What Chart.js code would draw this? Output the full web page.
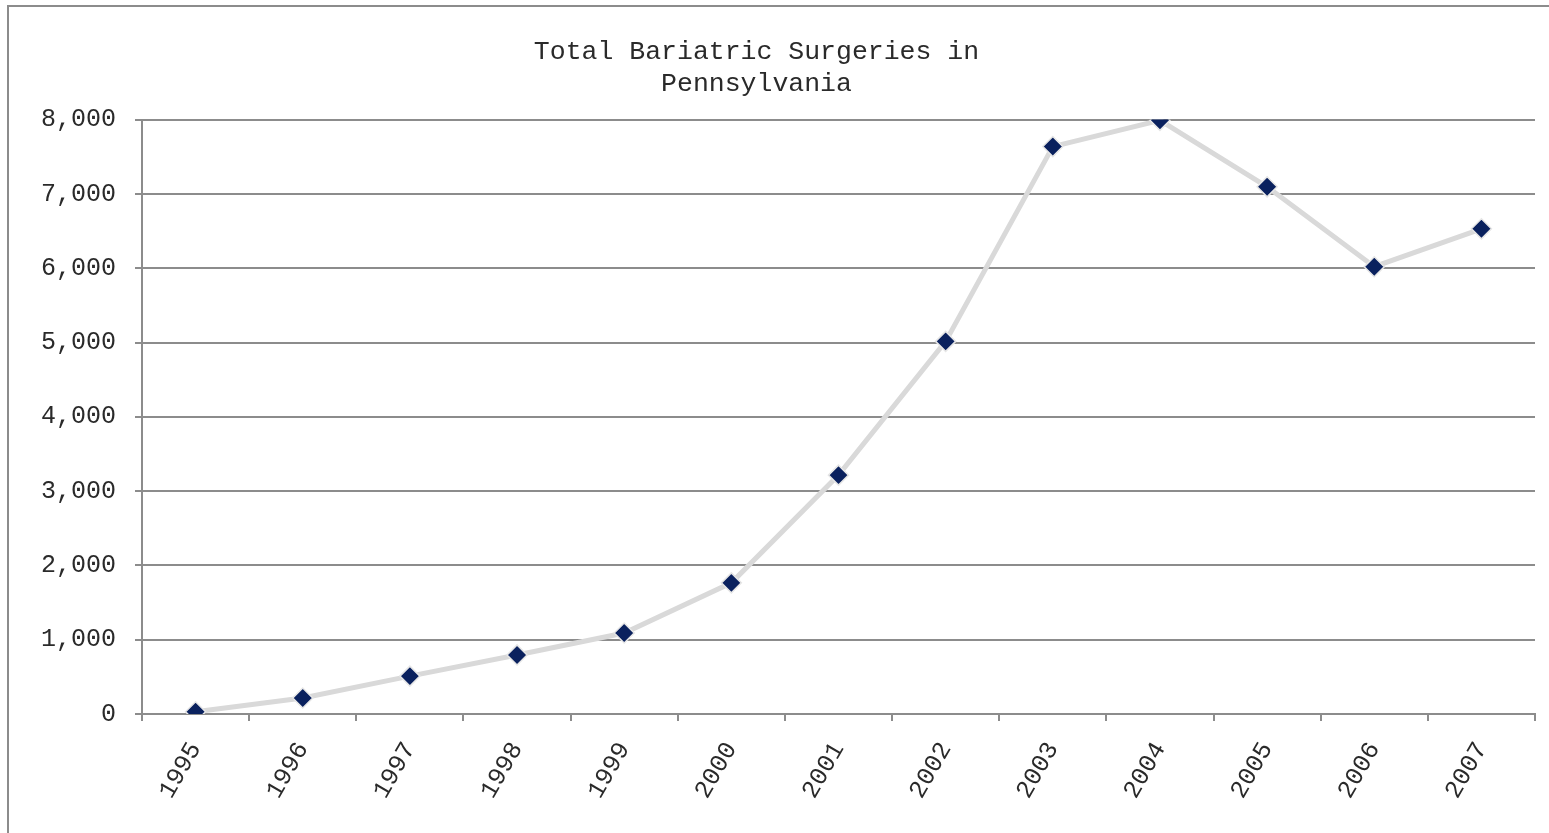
<!DOCTYPE html>
<html>
<head>
<meta charset="utf-8">
<title>Total Bariatric Surgeries in Pennsylvania</title>
<script src="https://cdn.jsdelivr.net/npm/chart.js@4/dist/chart.umd.min.js"></script>
<style>
    html, body { margin: 0; padding: 0; background: #fff; overflow: hidden; }
    #frame {
        position: absolute; left: 7px; top: 5px;
        width: 1600px; height: 900px;
        border: 2px solid #8c8c8c;
    }
    #wrap { position: absolute; left: 0; top: 0; width: 1549px; height: 833px; }
</style>
</head>
<body>
<div id="frame"></div>
<div id="wrap"><canvas id="surgeryChart"></canvas></div>
<script>
// Yearly totals
const years = ['1995', '1996', '1997', '1998', '1999', '2000', '2001',
               '2002', '2003', '2004', '2005', '2006', '2007'];
const surgeries = [30, 215, 510, 795, 1090, 1765, 3215, 5015, 7637, 7990, 7095, 6020, 6530];
const yTicks = [0, 1000, 2000, 3000, 4000, 5000, 6000, 7000, 8000];

const mono = 'Liberation Mono, Courier New, monospace';
const axisGray = '#8c8c8c';
const textColor = '#2a2a2a';

// nudge the title a little left of the canvas centre
const titleShift = {
    id: 'titleShift',
    afterLayout(chart) {
        const tb = chart.titleBlock;
        if (tb) { tb.left -= 15; tb.right -= 15; }
    }
};

const ctx = document.getElementById('surgeryChart').getContext('2d');
new Chart(ctx, {
    type: 'line',
    data: {
        labels: years,
        datasets: [{
            data: surgeries,
            borderColor: '#d9d9d9',
            borderWidth: 5,
            tension: 0,
            pointStyle: 'rectRot',
            pointRadius: 10,
            pointBackgroundColor: '#0a215e',
            pointBorderColor: '#e6e6e6',
            pointBorderWidth: 1.5
        }]
    },
    plugins: [titleShift],
    options: {
        responsive: true,
        maintainAspectRatio: false,
        animation: false,
        layout: { padding: { left: 8, right: 14, top: 0, bottom: 0 } },
        plugins: {
            legend: { display: false },
            tooltip: { enabled: false },
            title: {
                display: true,
                text: ['Total Bariatric Surgeries in', 'Pennsylvania'],
                color: textColor,
                font: { family: mono, size: 26.5, weight: 'normal', lineHeight: 1.2 },
                padding: { top: 36, bottom: 20 }
            }
        },
        scales: {
            x: {
                offset: true,
                grid: {
                    offset: true,
                    drawOnChartArea: false,
                    drawTicks: true,
                    tickLength: 7,
                    color: axisGray,
                    lineWidth: 2
                },
                border: { color: axisGray, width: 2 },
                ticks: {
                    color: textColor,
                    font: { family: mono, size: 25 },
                    minRotation: 60,
                    maxRotation: 60,
                    padding: 16
                },
                afterFit: scale => { scale.height = 119; }
            },
            y: {
                min: 0,
                max: 8000,
                afterBuildTicks: scale => { scale.ticks = yTicks.map(v => ({ value: v })); },
                grid: {
                    color: axisGray,
                    lineWidth: 2,
                    tickLength: 7
                },
                border: { color: axisGray, width: 2 },
                ticks: {
                    color: textColor,
                    font: { family: mono, size: 25 },
                    padding: 19,
                    callback: v => v.toLocaleString('en-US')
                },
                afterFit: scale => { scale.width = 134; }
            }
        }
    }
});
</script>
</body>
</html>
